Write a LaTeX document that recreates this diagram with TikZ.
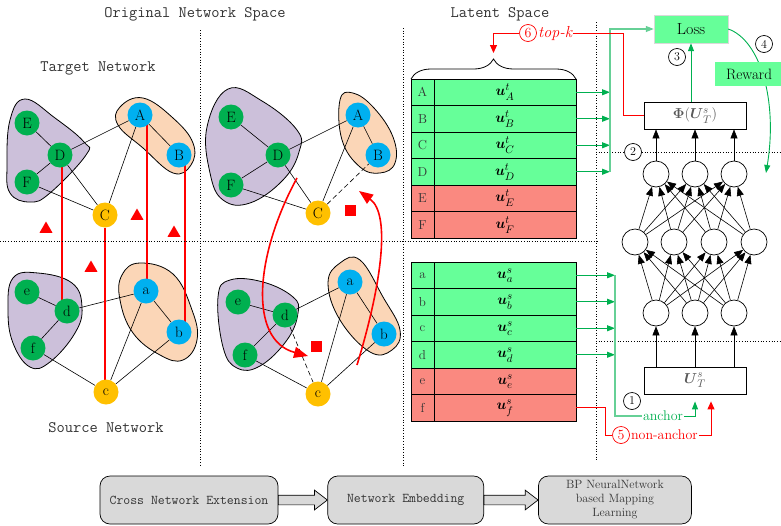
\documentclass[tikz,border=0pt]{standalone}
\usepackage{amsmath,amssymb}
\usepackage{xcolor}
\usepackage{tikz}
\usetikzlibrary{shapes,arrows.meta,positioning,calc,backgrounds,decorations.pathreplacing}
\definecolor{nwgreen}{RGB}{0,176,80}
\definecolor{nwblue}{RGB}{0,176,240}
\definecolor{nwyellow}{RGB}{255,192,0}
\definecolor{blobpurple}{RGB}{204,192,218}
\definecolor{bloborange}{RGB}{251,214,183}
\definecolor{rowgreen}{RGB}{102,255,153}
\definecolor{rowred}{RGB}{250,137,128}
\definecolor{lnkgreen}{RGB}{0,176,80}
\definecolor{flowgray}{RGB}{217,217,217}

\begin{document}
\begin{tikzpicture}[
  x=1pt, y=-1pt,
  vtx/.style={circle, minimum size=25pt, inner sep=0pt, font=\fontsize{15}{15}\selectfont},
  gnode/.style={vtx, fill=nwgreen},
  bnode/.style={vtx, fill=nwblue},
  ynode/.style={vtx, fill=nwyellow},
  edge/.style={black, line width=0.6pt},
  blobP/.style={draw, fill=blobpurple, line width=0.8pt},
  blobO/.style={draw, fill=bloborange, line width=0.8pt},
  anchorln/.style={red, line width=2.2pt},
  redcurve/.style={red, line width=1.6pt, -{Triangle[length=14pt,width=11pt]}},
  redtri/.style={regular polygon, regular polygon sides=3, fill=red, minimum size=15pt, inner sep=0pt},
  redsq/.style={fill=red, minimum size=11pt, inner sep=0pt},
  title/.style={font=\fontsize{16}{18}\ttfamily, text=black!80},
  sep/.style={dotted, line width=0.7pt},
  cell/.style={draw, line width=0.8pt, minimum height=26.5pt, inner sep=0pt, outer sep=0pt},
  keycell/.style={cell, minimum width=23pt, font=\fontsize{13}{13}\selectfont, text=black!80},
  veccell/.style={cell, minimum width=142pt, font=\fontsize{15}{15}\selectfont},
  neuron/.style={circle, draw, line width=0.7pt, minimum size=26pt, inner sep=0pt, fill=white},
  narr/.style={-{Triangle[length=9pt,width=7pt]}, line width=0.6pt},
  glink/.style={lnkgreen!60, line width=1.2pt},
  garr/.style={lnkgreen, line width=1pt, -{Triangle[length=8pt,width=6pt]}},
  rlink/.style={red, line width=1pt},
  numc/.style={circle, draw, line width=0.7pt, minimum size=17pt, inner sep=0pt, fill=white, font=\fontsize{12}{12}\selectfont},
  layerbox/.style={draw, line width=0.8pt, minimum width=102pt, minimum height=27pt, fill=white,
                   text=black!65, font=\fontsize{15}{15}\selectfont},
  flow/.style={draw, rounded corners=10pt, fill=flowgray, minimum height=48pt, line width=0.7pt,
               font=\fontsize{13.4}{15}\ttfamily, text=black!80},
  bigarr/.style={single arrow, draw, fill=flowgray, line width=0.7pt, text height=4.5pt, text depth=4.5pt,
                 single arrow head extend=5pt, single arrow tip angle=75, inner sep=0pt, outer sep=0pt}
]
\useasboundingbox (0,0) rectangle (781,525);

% titles
\node[title] (orig) at (195,14) {Original Network Space};
\node[title] (lat) at (500,14) {Latent Space};
\node[title] (tgtnet) at (98,68) {Target Network};
\node[title] (srcnet) at (106,428) {Source Network};

% separators
\draw[sep] (200,30) -- (200,467);
\draw[sep] (403,28) -- (403,467);
\draw[sep] (0,241) -- (597,241);
\draw[sep] (596,22) -- (596,460);
\draw[sep] (596,152) -- (781,152);
\draw[sep] (596,341) -- (781,341);

% target network, before extension
\node[gnode] (tlE) at (27,123) {E};
\node[gnode] (tlD) at (60,155) {D};
\node[gnode] (tlF) at (27,182) {F};
\node[ynode] (tlC) at (105,215) {C};
\node[bnode] (tlA) at (140,115) {A};
\node[bnode] (tlB) at (179,155) {B};
% target network, extended
\node[gnode] (trE) at (231,117) {E};
\node[gnode] (trD) at (278,155) {D};
\node[gnode] (trF) at (231,185) {F};
\node[ynode] (trC) at (318,213) {C};
\node[bnode] (trA) at (358,115) {A};
\node[bnode] (trB) at (378,155) {B};
% source network, before extension
\node[gnode] (sle) at (27,292) {e};
\node[gnode] (sld) at (67,311) {d};
\node[gnode] (slf) at (33,348) {f};
\node[ynode] (slc) at (106,392) {c};
\node[bnode] (sla) at (146,291) {a};
\node[bnode] (slb) at (179,332) {b};
% source network, extended
\node[gnode] (sre) at (238,302) {e};
\node[gnode] (srd) at (285,315) {d};
\node[gnode] (srf) at (245,355) {f};
\node[ynode] (src) at (318,394) {c};
\node[bnode] (sra) at (350,282) {a};
\node[bnode] (srb) at (384,334) {b};

\begin{scope}[on background layer]
  \draw[blobP] plot[smooth cycle, tension=0.7] coordinates
    {(10,120) (25,99) (55,118) (84,142) (86,155) (50,193) (30,202) (10,193) (7,165)};
  \draw[blobO] plot[smooth cycle, tension=0.7] coordinates
    {(120,107) (143,98) (173,118) (193,143) (191,165) (173,173) (143,148) (118,125)};
  \draw[blobP] plot[smooth cycle, tension=0.7] coordinates
    {(207,127) (228,89) (262,101) (297,130) (299,152) (283,180) (250,203) (223,200) (210,173)};
  \draw[blobO] plot[smooth cycle, tension=0.7] coordinates
    {(340,100) (353,93) (374,108) (393,137) (395,163) (380,173) (360,167) (342,140)};
  \draw[blobP] plot[smooth cycle, tension=0.7] coordinates
    {(13,278) (38,273) (72,283) (82,307) (75,333) (50,362) (30,367) (13,343) (8,310)};
  \draw[blobO] plot[smooth cycle, tension=0.7] coordinates
    {(122,275) (140,263) (173,274) (192,310) (197,340) (183,360) (160,355) (133,333) (120,300)};
  \draw[blobP] plot[smooth cycle, tension=0.7] coordinates
    {(218,297) (230,280) (263,282) (293,297) (298,313) (287,340) (260,366) (237,368) (223,347)};
  \draw[blobO] plot[smooth cycle, tension=0.7] coordinates
    {(328,283) (340,263) (360,260) (383,297) (400,330) (392,350) (370,352) (340,320)};

  \foreach \u/\v in {E/D,D/F,D/A,D/C,F/C,A/C,A/B}{
    \draw[edge] (tl\u) -- (tl\v);
    \draw[edge] (tr\u) -- (tr\v);
  }
  \draw[edge, dash pattern=on 5pt off 3pt] (trC) -- (trB);
  \foreach \u/\v in {e/d,d/f,d/a,f/c,a/c,a/b,b/c}{
    \draw[edge] (sl\u) -- (sl\v);
    \draw[edge] (sr\u) -- (sr\v);
  }
  \draw[edge, dash pattern=on 5pt off 3pt] (srd) -- (src);

  % anchor links
  \draw[anchorln] ([xshift=2pt]tlD.center) -- ([xshift=2pt]tlD.center |- sld.center);
  \draw[anchorln] (tlC) -- (tlC |- slc);
  \draw[anchorln] ([xshift=7pt]tlA.center) -- ([xshift=7pt]tlA.center |- sla.center);
  \draw[anchorln] ([xshift=6pt]tlB.center) -- ([xshift=6pt]tlB.center |- slb.center);
\end{scope}

\node[redtri] (tri1) at (46,229) {};
\node[redtri] (tri2) at (137,216) {};
\node[redtri] (tri3) at (174,233) {};
\node[redtri] (tri4) at (91,268) {};
\node[redsq] (sq1) at (350,210) {};
\node[redsq] (sq2) at (316,346) {};

\coordinate (cs1) at (297,178);
\coordinate (ce1) at (308,356);
\coordinate (cs2) at (357,365);
\coordinate (ce2) at (359,191);
\draw[redcurve] (cs1) .. controls (255,255) and (248,340) .. (ce1);
\draw[redcurve] (cs2) .. controls (380,290) and (392,215) .. (ce2);

% latent space tables
\foreach \k/\c [count=\i] in {A/rowgreen,B/rowgreen,C/rowgreen,D/rowgreen,E/rowred,F/rowred}{
  \node[keycell, fill=\c] (k\k) at (422.5,{65.75+26.5*\i}) {\k};
  \node[veccell, fill=\c, right=0pt of k\k] (u\k) {$\boldsymbol{u}^{t}_{\k}$};
}
\foreach \k/\c [count=\i] in {a/rowgreen,b/rowgreen,c/rowgreen,d/rowgreen,e/rowred,f/rowred}{
  \node[keycell, fill=\c] (k\k) at (422.5,{248.75+26.5*\i}) {\k};
  \node[veccell, fill=\c, right=0pt of k\k] (u\k) {$\boldsymbol{u}^{s}_{\k}$};
}
\draw[decorate, decoration={brace, amplitude=20pt}, line width=0.8pt]
  (kA.north west) -- (uA.north east);
\coordinate (btip) at ($(kA.north west)!0.5!(uA.north east)+(0,-26)$);

% mapping network
\node[layerbox] (phi) at (695,115.5) {$\boldsymbol{\Phi}(\boldsymbol{U}^{s}_{T})$};
\node[layerbox] (ust) at (695,380.5) {$\boldsymbol{U}^{s}_{T}$};
\foreach \x [count=\i] in {656,695,734} \node[neuron] (n\i) at (\x,174) {};
\foreach \x [count=\i] in {635,674,714,754} \node[neuron] (m\i) at (\x,242) {};
\foreach \x [count=\i] in {656,695,734} \node[neuron] (b\i) at (\x,313) {};
\foreach \j in {1,2,3}{
  \draw[narr] (n\j.north) -- (n\j.north |- phi.south);
  \draw[narr] (ust.north -| b\j) -- (b\j.south);
  \foreach \i in {1,2,3,4}{
    \draw[narr] (m\i) -- (n\j);
    \draw[narr] (b\j) -- (m\i);
  }
}

\node[fill=rowgreen, draw=black!15, minimum width=74pt, minimum height=28pt,
      font=\fontsize{16}{16}\selectfont] (loss) at (691,29) {Loss};
\draw[garr] (loss.south |- phi.north) -- (loss.south);
\coordinate (rw) at (766,173);
\draw[lnkgreen, line width=0.9pt, -{Triangle[length=8pt,width=6pt]}]
  (loss.east) .. controls (760,40) and (778,100) .. (rw);
\node[fill=rowgreen, minimum width=68pt, minimum height=24pt,
      font=\fontsize{15}{15}\selectfont] (reward) at (749,74) {Reward};

% green links
\coordinate (busT) at (610,29);
\foreach \k in {A,B,C,D} \draw[garr] (u\k.east) -- (u\k.east -| busT);
\draw[glink, -{Triangle[length=8pt,width=6pt]}] (uD.east -| busT) -- (busT) -- (loss.west);

\coordinate (busS) at (615,416);
\node[text=lnkgreen, fill=white, inner sep=1pt, font=\fontsize{14}{14}\selectfont] (anc) at (663,416) {anchor};
\foreach \k in {a,b,c,d} \draw[garr] (u\k.east) -- (u\k.east -| busS);
\draw[glink] (ua.east -| busS) -- (busS) -- (anc.west);
\draw[garr] (anc.east) -| ([yshift=-7pt]ust.south);

% red links
\node[numc, draw=red, text=red, font=\fontsize{14}{14}\selectfont] (n5) at (621,435) {5};
\node[text=red, inner sep=1pt, font=\fontsize{14}{14}\selectfont, right=0pt of n5] (nanc) {non-anchor};
\draw[rlink] (uf.east) -- ++(29,0) |- (n5.west);
\draw[rlink, -{Triangle[length=8pt,width=7pt]}] (nanc.east) -| ([xshift=16pt,yshift=-7pt]ust.south);

\node[numc, draw=red, text=red, font=\fontsize{14}{14}\selectfont] (n6) at (528,33) {6};
\node[text=red, inner sep=1pt, font=\fontsize{16}{16}\itshape, right=0pt of n6] (topk) {top-k};
\coordinate (rk) at (623,33);
\draw[rlink] (phi.west) -| (rk) -- (topk.east);
\draw[rlink, -{Triangle[length=8pt,width=7pt]}] (n6.west) -| (btip);

% step numbers
\node[numc] (s1) at (632,401) {1};
\node[numc] (s2) at (633,152) {2};
\node[numc] (s3) at (677,57) {3};
\node[numc] (s4) at (764,44) {4};

% pipeline
\node[flow, minimum width=178pt] (ext) at (189,500) {Cross Network Extension};
\node[bigarr, minimum height=49pt, right=0pt of ext] (ar1) {};
\node[flow, minimum width=156pt, right=0pt of ar1] (emb) {Network Embedding};
\node[bigarr, minimum height=54pt, right=0pt of emb] (ar2) {};
\node[flow, minimum width=153pt, right=0pt of ar2, align=center,
      font=\fontsize{12}{14}\selectfont] (bpnn) {BP NeuralNetwork\\based Mapping\\Learning};

\end{tikzpicture}
\end{document}
